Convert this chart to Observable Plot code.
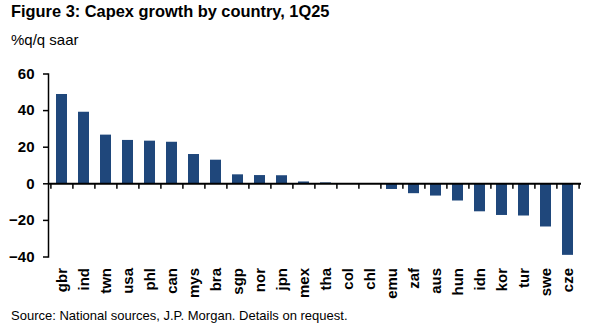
<!DOCTYPE html>
<html>
<head>
<meta charset="utf-8">
<script src="https://cdn.jsdelivr.net/npm/d3@7"></script>
<script src="https://cdn.jsdelivr.net/npm/@observablehq/plot@0.6"></script>
<style>
  body { margin: 0; background: #fff; font-family: "Liberation Sans", Arial, sans-serif; }
  #wrap { position: relative; width: 598px; height: 336px; overflow: hidden; }
  .t { position: absolute; left: 11px; white-space: nowrap; line-height: 1; color: #000; }
  #title { top: 3px; font-size: 16.4px; font-weight: bold; }
  #subtitle { top: 32px; font-size: 15px; }
  #caption { top: 309px; font-size: 13px; }
  #chart { position: absolute; left: 0; top: 50px; }
</style>
</head>
<body>
<div id="wrap">
  <div id="title" class="t">Figure 3: Capex growth by country, 1Q25</div>
  <div id="subtitle" class="t">%q/q saar</div>
  <div id="chart"></div>
  <div id="caption" class="t">Source: National sources, J.P. Morgan. Details on request.</div>
</div>
<script>
const countries = ["gbr","ind","twn","usa","phl","can","mys","bra","sgp","nor","jpn","mex","tha","col","chl","emu","zaf","aus","hun","idn","kor","tur","swe","cze"];
const values = [48.8,39.1,26.6,23.7,23.3,22.7,16.0,12.9,4.9,4.5,4.4,1.0,0.5,0,0,-3.1,-5.4,-6.7,-9.4,-15.3,-17.3,-17.6,-23.6,-39.1];
const yTicks = [-40,-20,0,20,40,60];

const data = countries.map((c, i) => ({country: c, value: values[i]}));

const W = 598, H = 250, mL = 48, mR = 17, mT = 23.5, mB = 43.5;
const step = (W - mL - mR) / countries.length;
const blue = "#1F477B";

const chart = Plot.plot({
  width: W,
  height: H,
  marginLeft: mL,
  marginRight: mR,
  marginTop: mT,
  marginBottom: mB,
  style: {fontFamily: "'Liberation Sans', Arial, sans-serif", color: "#000", background: "#fff"},
  x: {type: "band", domain: countries, paddingInner: 0.5, paddingOuter: 0.25, axis: null},
  y: {domain: [-40, 60], axis: null},
  marks: [
    Plot.barY(data, {x: "country", y: "value", fill: blue}),
    Plot.frame({anchor: "left", stroke: "#000", strokeWidth: 1.5}),
    Plot.axisY({ticks: yTicks, label: null, tickSize: 5, tickPadding: 9, fontSize: 15, fontWeight: "bold", stroke: "#000", strokeWidth: 1.5}),
    Plot.ruleY([0], {stroke: "#000", strokeWidth: 2}),
    Plot.ruleX(countries, {x: d => d, y1: 0, y2: -3, dx: -step / 2, stroke: "#000", strokeWidth: 1.5}),
    Plot.ruleX(countries.slice(-1), {x: d => d, y1: 0, y2: -3, dx: step / 2, stroke: "#000", strokeWidth: 1.5}),
    Plot.axisX({domain: countries, label: null, anchor: "bottom", tickSize: 0, tickPadding: 11, tickRotate: -90, fontSize: 15, fontWeight: "bold"})
  ]
});
document.getElementById("chart").appendChild(chart);
</script>
</body>
</html>
